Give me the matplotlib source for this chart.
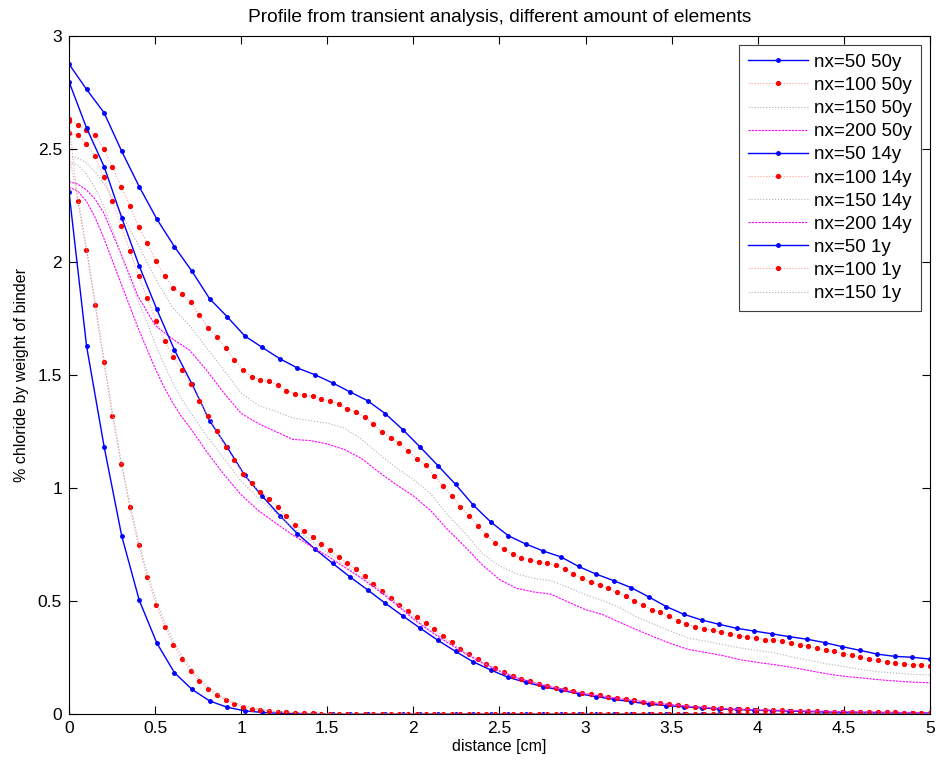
import numpy as np
import matplotlib
matplotlib.use('Agg')
from matplotlib import pyplot as plt
from matplotlib.ticker import FormatStrFormatter

plt.rcParams['font.family'] = ['Liberation Sans', 'DejaVu Sans']
plt.rcParams['font.size'] = 11.5

# node grids of the finite element meshes
x_nx50 = np.linspace(0, 5, 50)
x_nx100 = np.linspace(0, 5, 100)

# ---- 50 years ----
nx50_50y = [2.876, 2.764, 2.660, 2.490, 2.333, 2.190, 2.068, 1.959, 1.838, 1.758,
            1.673, 1.622, 1.572, 1.531, 1.501, 1.465, 1.425, 1.386, 1.329, 1.258,
            1.180, 1.099, 1.016, 0.925, 0.850, 0.789, 0.752, 0.721, 0.695, 0.653,
            0.619, 0.590, 0.559, 0.518, 0.475, 0.441, 0.416, 0.397, 0.379, 0.367,
            0.355, 0.342, 0.331, 0.316, 0.298, 0.282, 0.265, 0.255, 0.251, 0.243]

nx100_50y = [2.631, 2.606, 2.585, 2.563, 2.501, 2.420, 2.333, 2.249, 2.155, 2.084,
             2.004, 1.937, 1.886, 1.858, 1.822, 1.765, 1.710, 1.668, 1.618, 1.568,
             1.521, 1.493, 1.479, 1.473, 1.454, 1.431, 1.417, 1.410, 1.407, 1.394,
             1.386, 1.373, 1.350, 1.335, 1.314, 1.283, 1.247, 1.223, 1.198, 1.164,
             1.129, 1.101, 1.055, 1.009, 0.964, 0.917, 0.878, 0.833, 0.792, 0.758,
             0.729, 0.708, 0.692, 0.681, 0.673, 0.666, 0.658, 0.641, 0.621, 0.601,
             0.583, 0.572, 0.556, 0.538, 0.520, 0.501, 0.481, 0.462, 0.451, 0.432,
             0.413, 0.399, 0.386, 0.377, 0.370, 0.362, 0.354, 0.347, 0.341, 0.335,
             0.329, 0.326, 0.323, 0.313, 0.305, 0.300, 0.291, 0.282, 0.277, 0.267,
             0.260, 0.251, 0.243, 0.238, 0.230, 0.227, 0.221, 0.218, 0.216, 0.211]

x_nx150_50y = [0, 0.05, 0.1, 0.15, 0.2, 0.3, 0.4, 0.5, 0.6, 0.7, 0.8, 0.9, 1.0, 1.1, 1.2,
               1.3, 1.4, 1.5, 1.6, 1.7, 1.8, 1.9, 2.0, 2.1, 2.2, 2.3, 2.4, 2.5, 2.6, 2.7,
               2.8, 2.9, 3.0, 3.1, 3.2, 3.3, 3.4, 3.5, 3.6, 3.7, 3.8, 3.9, 4.0, 4.1, 4.2,
               4.3, 4.4, 4.5, 4.6, 4.7, 4.8, 4.9, 5.0]
nx150_50y = [2.466, 2.460, 2.440, 2.400, 2.350, 2.220, 2.080, 1.930, 1.800, 1.720, 1.620,
             1.520, 1.420, 1.365, 1.340, 1.310, 1.298, 1.287, 1.265, 1.215, 1.150, 1.090,
             1.037, 0.975, 0.880, 0.800, 0.710, 0.655, 0.620, 0.600, 0.590, 0.560, 0.528,
             0.502, 0.470, 0.428, 0.396, 0.365, 0.335, 0.322, 0.307, 0.292, 0.281, 0.270,
             0.252, 0.237, 0.222, 0.210, 0.197, 0.187, 0.181, 0.176, 0.173]

x_nx200_50y = [0, 0.05, 0.1, 0.15, 0.2, 0.3, 0.4, 0.5, 0.6, 0.7, 0.8, 0.9, 1.0, 1.1, 1.2,
               1.3, 1.4, 1.5, 1.6, 1.7, 1.8, 1.9, 2.0, 2.1, 2.2, 2.3, 2.4, 2.5, 2.6, 2.7,
               2.8, 2.9, 3.0, 3.1, 3.2, 3.3, 3.4, 3.5, 3.6, 3.7, 3.8, 3.9, 4.0, 4.1, 4.2,
               4.3, 4.4, 4.5, 4.6, 4.7, 4.8, 4.9, 5.0]
nx200_50y = [2.355, 2.345, 2.320, 2.280, 2.220, 2.040, 1.850, 1.720, 1.660, 1.610, 1.520,
             1.420, 1.330, 1.285, 1.250, 1.215, 1.210, 1.195, 1.170, 1.130, 1.070, 1.015,
             0.965, 0.900, 0.815, 0.740, 0.660, 0.595, 0.556, 0.540, 0.530, 0.495, 0.462,
             0.440, 0.405, 0.372, 0.340, 0.310, 0.285, 0.272, 0.258, 0.240, 0.228, 0.218,
             0.206, 0.192, 0.178, 0.167, 0.160, 0.152, 0.146, 0.141, 0.138]

# ---- 14 years ----
nx50_14y = [2.798, 2.593, 2.422, 2.196, 1.982, 1.790, 1.611, 1.460, 1.298, 1.181,
            1.056, 0.964, 0.878, 0.798, 0.730, 0.667, 0.606, 0.549, 0.490, 0.434,
            0.379, 0.326, 0.277, 0.231, 0.195, 0.162, 0.140, 0.121, 0.105, 0.090,
            0.077, 0.065, 0.054, 0.044, 0.037, 0.032, 0.027, 0.022, 0.020, 0.017,
            0.015, 0.013, 0.011, 0.009, 0.008, 0.007, 0.006, 0.005, 0.004, 0.004]

nx100_14y = [2.569, 2.562, 2.522, 2.467, 2.374, 2.270, 2.161, 2.050, 1.937, 1.842,
             1.741, 1.651, 1.579, 1.524, 1.460, 1.386, 1.318, 1.254, 1.181, 1.124,
             1.064, 1.020, 0.983, 0.952, 0.914, 0.875, 0.838, 0.810, 0.785, 0.754,
             0.726, 0.696, 0.667, 0.640, 0.611, 0.575, 0.546, 0.515, 0.484, 0.456,
             0.428, 0.401, 0.375, 0.345, 0.317, 0.288, 0.264, 0.242, 0.220, 0.202,
             0.185, 0.170, 0.156, 0.146, 0.134, 0.125, 0.116, 0.112, 0.102, 0.094,
             0.088, 0.084, 0.077, 0.072, 0.065, 0.061, 0.054, 0.050, 0.047, 0.043,
             0.038, 0.035, 0.031, 0.030, 0.027, 0.025, 0.022, 0.021, 0.020, 0.019,
             0.018, 0.017, 0.016, 0.015, 0.014, 0.013, 0.012, 0.011, 0.011, 0.010,
             0.009, 0.009, 0.008, 0.008, 0.007, 0.007, 0.006, 0.006, 0.006, 0.005]

x_nx150_14y = [0, 0.05, 0.1, 0.15, 0.2, 0.25, 0.3, 0.35, 0.4, 0.45, 0.5, 0.55, 0.6, 0.65,
               0.7, 0.8, 0.9, 1.0, 1.1, 1.2, 1.3, 1.4, 1.5, 1.6, 1.7, 1.8, 1.9, 2.0, 2.1,
               2.2, 2.3, 2.4, 2.5, 2.6, 2.7, 2.8, 2.9, 3.0, 3.2, 3.4, 3.6, 3.8, 4.0, 4.5, 5.0]
nx150_14y = [2.440, 2.430, 2.390, 2.330, 2.250, 2.150, 2.040, 1.930, 1.830, 1.740, 1.640,
             1.550, 1.470, 1.400, 1.340, 1.230, 1.130, 1.030, 0.955, 0.890, 0.825, 0.770,
             0.715, 0.660, 0.605, 0.550, 0.490, 0.425, 0.370, 0.320, 0.272, 0.230, 0.192,
             0.162, 0.140, 0.121, 0.104, 0.090, 0.068, 0.050, 0.035, 0.025, 0.019, 0.011,
             0.006]

x_nx200_14y = [0, 0.05, 0.1, 0.15, 0.2, 0.25, 0.3, 0.35, 0.4, 0.45, 0.5, 0.55, 0.6, 0.65,
               0.7, 0.8, 0.9, 1.0, 1.1, 1.2, 1.3, 1.4, 1.5, 1.6, 1.7, 1.8, 1.9, 2.0, 2.1,
               2.2, 2.3, 2.4, 2.5, 2.6, 2.7, 2.8, 2.9, 3.0, 3.2, 3.4, 3.6, 3.8, 4.0, 4.5, 5.0]
nx200_14y = [2.330, 2.315, 2.270, 2.200, 2.110, 2.010, 1.910, 1.810, 1.710, 1.620, 1.530,
             1.450, 1.380, 1.320, 1.270, 1.160, 1.060, 0.970, 0.900, 0.845, 0.792, 0.745,
             0.700, 0.650, 0.600, 0.545, 0.485, 0.420, 0.365, 0.315, 0.268, 0.226, 0.190,
             0.160, 0.138, 0.120, 0.103, 0.089, 0.067, 0.049, 0.034, 0.024, 0.018, 0.010,
             0.006]

# ---- 1 year ----
nx50_1y = [2.311, 1.628, 1.183, 0.788, 0.503, 0.314, 0.183, 0.109, 0.058, 0.030,
           0.014, 0.007, 0.003, 0.002, 0.001, 0.000, 0.000, 0.000, 0.000, 0.000,
           0.000, 0.000, 0.000, 0.000, 0.000, 0.000, 0.000, 0.000, 0.000, 0.000,
           0.000, 0.000, 0.000, 0.000, 0.000, 0.000, 0.000, 0.000, 0.000, 0.000,
           0.000, 0.000, 0.000, 0.000, 0.000, 0.000, 0.000, 0.000, 0.000, 0.000]

nx100_1y = [2.625, 2.268, 2.052, 1.811, 1.556, 1.317, 1.106, 0.915, 0.748, 0.608,
            0.484, 0.386, 0.305, 0.242, 0.190, 0.146, 0.109, 0.083, 0.062, 0.044,
            0.032, 0.023, 0.018, 0.013, 0.010, 0.007, 0.005, 0.004, 0.003, 0.002,
            0.002, 0.001, 0.001, 0.001, 0.001, 0.001, 0.001, 0.001, 0.001, 0.001,
            0.001, 0.000, 0.000, 0.000, 0.000, 0.000, 0.000, 0.000, 0.000, 0.000,
            0.000, 0.000, 0.000, 0.000, 0.000, 0.000, 0.000, 0.000, 0.000, 0.000,
            0.000, 0.000, 0.000, 0.000, 0.000, 0.000, 0.000, 0.000, 0.000, 0.000,
            0.000, 0.000, 0.000, 0.000, 0.000, 0.000, 0.000, 0.000, 0.000, 0.000,
            0.000, 0.000, 0.000, 0.000, 0.000, 0.000, 0.000, 0.000, 0.000, 0.000,
            0.000, 0.000, 0.000, 0.000, 0.000, 0.000, 0.000, 0.000, 0.000, 0.000]

x_nx150_1y = [0, 0.05, 0.1, 0.15, 0.2, 0.25, 0.3, 0.35, 0.4, 0.45, 0.5, 0.55, 0.6, 0.65,
              0.7, 0.75, 0.8, 0.85, 0.9, 0.95, 1.0, 1.1, 1.2, 1.3, 1.4, 1.6, 2.0, 3.0,
              4.0, 5.0]
nx150_1y = [2.470, 2.290, 2.070, 1.830, 1.580, 1.345, 1.130, 0.940, 0.775, 0.635, 0.515,
            0.415, 0.333, 0.265, 0.210, 0.165, 0.126, 0.096, 0.072, 0.054, 0.040, 0.022,
            0.012, 0.006, 0.003, 0.001, 0.000, 0.000, 0.000, 0.000]

# line styles per mesh size
sty_50 = dict(color='b', ls='-', lw=1.0, marker='.', ms=5, mfc='b', mec='b')
sty_100 = dict(color='#ff9c9c', ls=':', lw=0.8, marker='.', ms=5.5, mfc='r', mec='r')
sty_150 = dict(color='#b0b0b0', ls=':', lw=0.8)
sty_200 = dict(color='#ff00ff', ls=(0, (2, 1)), lw=0.8)

fig = plt.figure(figsize=(9.36, 7.69), dpi=100)
ax = fig.add_axes([0.0737, 0.0715, 0.9199, 0.8817])

ax.plot(x_nx50, nx50_50y, label='nx=50 50y', **sty_50)
ax.plot(x_nx100, nx100_50y, label='nx=100 50y', **sty_100)
ax.plot(x_nx150_50y, nx150_50y, label='nx=150 50y', **sty_150)
ax.plot(x_nx200_50y, nx200_50y, label='nx=200 50y', **sty_200)
ax.plot(x_nx50, nx50_14y, label='nx=50 14y', **sty_50)
ax.plot(x_nx100, nx100_14y, label='nx=100 14y', **sty_100)
ax.plot(x_nx150_14y, nx150_14y, label='nx=150 14y', **sty_150)
ax.plot(x_nx200_14y, nx200_14y, label='nx=200 14y', **sty_200)
ax.plot(x_nx50, nx50_1y, label='nx=50 1y', **sty_50)
ax.plot(x_nx100, nx100_1y, label='nx=100 1y', **sty_100)
ax.plot(x_nx150_1y, nx150_1y, label='nx=150 1y', **sty_150)

ax.set_xlim(0, 5)
ax.set_ylim(0, 3)
ax.set_xticks(np.arange(0, 5.01, 0.5))
ax.set_yticks(np.arange(0, 3.01, 0.5))
ax.xaxis.set_major_formatter(FormatStrFormatter('%g'))
ax.yaxis.set_major_formatter(FormatStrFormatter('%g'))
ax.tick_params(direction='in', top=True, right=True, length=6, width=0.8, pad=5,
               labelsize=12.5)
for sp in ax.spines.values():
    sp.set_linewidth(0.8)

ax.set_title('Profile from transient analysis, different amount of elements', pad=10)
ax.set_xlabel('distance [cm]', labelpad=2)
ax.set_ylabel('% chloride by weight of binder', labelpad=6)

leg = ax.legend(loc='upper right', numpoints=1, fontsize=13.5, handlelength=3.2,
                handletextpad=0.35, labelspacing=0.32, borderpad=0.45,
                borderaxespad=0.5, fancybox=False, framealpha=1, edgecolor='0.25')
leg.get_frame().set_linewidth(0.8)

fig.savefig('out.png', dpi=100)
